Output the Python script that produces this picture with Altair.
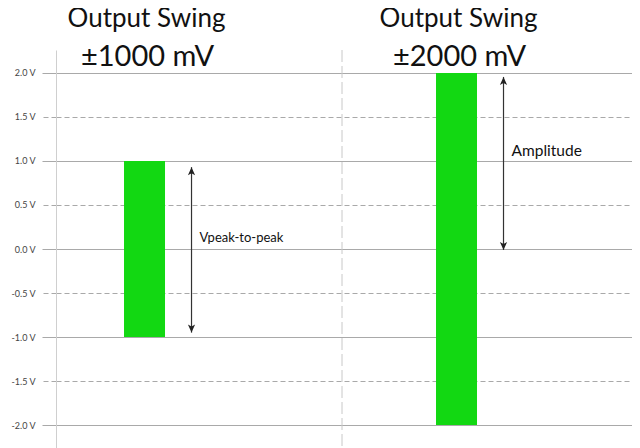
import altair as alt
import pandas as pd

# ---- data ----
categories = ["±1000 mV", "±2000 mV"]
title_top = ["Output Swing", "Output Swing"]
swing_low = [-1.0, -2.0]
swing_high = [1.0, 2.0]
arrow_from = [0.93, 1.955]
arrow_to = [-0.95, -0.01]
notes = ["Vpeak-to-peak", "Amplitude"]
note_y = [0.125, 1.11]
note_size = [13, 15.5]
tick_values = [-2.0, -1.5, -1.0, -0.5, 0.0, 0.5, 1.0, 1.5, 2.0]
y_domain = [-2.261, 2.261]

df = pd.DataFrame({
    "cat": categories,
    "top": title_top,
    "lo": swing_low,
    "hi": swing_high,
    "a_from": arrow_from,
    "a_to": arrow_to,
    "note": notes,
    "note_y": note_y,
    "note_size": note_size,
})

W, H = 576, 398
GRID = "#a9a9a9"

xscale = alt.Scale(domain=categories, paddingInner=0.8686, paddingOuter=0.3574, align=0.305)
x = alt.X("cat:N", scale=xscale, axis=None)
yscale = alt.Scale(domain=y_domain, nice=False, zero=False)

dash_cond = alt.condition("datum.value % 1 != 0", alt.value([5, 3]), alt.value([]))

yaxis = alt.Axis(
    values=tick_values,
    title=None,
    labelExpr="(datum.value < 0 ? '-' : '') + format(abs(datum.value), '.1f') + ' V'",
    labelFont="Lato",
    labelFontSize=9,
    labelColor="#444444",
    labelPadding=7,
    tickSize=14,
    tickColor=GRID,
    tickDash=dash_cond,
    grid=True,
    gridColor=GRID,
    gridDash=dash_cond,
    domainColor="#cfcfcf",
)

base = alt.Chart(df)

bars = base.mark_bar(color="#12d812").encode(
    x=x,
    y=alt.Y("lo:Q", scale=yscale, axis=yaxis),
    y2="hi:Q",
)

divider = alt.Chart(pd.DataFrame({"d": [0]})).mark_rule(
    color="#c8c8c8", strokeDash=[12, 4]
).encode(x=alt.value(286), y=alt.value(0), y2=alt.value(H))

arrow_line = base.mark_rule(color="#333333", strokeWidth=1.2, xOffset=47).encode(
    x=x, y=alt.Y("a_from:Q", scale=yscale), y2="a_to:Q"
)

up_head = "M0,0 L-0.45,1.0 L0,0.75 L0.45,1.0 Z"
down_head = "M0,0 L-0.45,-1.0 L0,-0.75 L0.45,-1.0 Z"

head_top = base.mark_point(shape=up_head, size=256, filled=True, color="#222222",
                           opacity=1, strokeWidth=0, xOffset=47).encode(
    x=x, y=alt.Y("a_from:Q", scale=yscale))
head_bot = base.mark_point(shape=down_head, size=256, filled=True, color="#222222",
                           opacity=1, strokeWidth=0, xOffset=47).encode(
    x=x, y=alt.Y("a_to:Q", scale=yscale))

note_text = base.mark_text(align="left", baseline="middle", font="Lato",
                           color="#111111", xOffset=55).encode(
    x=x, y=alt.Y("note_y:Q", scale=yscale), text="note:N",
    size=alt.Size("note_size:Q", scale=None, legend=None))

title1 = base.mark_text(align="center", baseline="alphabetic", font="Lato", fontSize=26,
                        color="#111111", xOffset=2).encode(
    x=x, y=alt.value(-23), text="top:N")
title2 = base.mark_text(align="center", baseline="alphabetic", font="Lato", fontSize=29,
                        color="#111111", xOffset=3).encode(
    x=x, y=alt.value(15.5), text="cat:N")

chart = alt.layer(divider, bars, arrow_line, head_top, head_bot, note_text, title1, title2).properties(
    width=W,
    height=H,
    autosize=alt.AutoSizeParams(type="none"),
    padding={"left": 48, "top": 42, "right": 0, "bottom": 0},
    background="white",
).configure_view(stroke=None)

chart.save("out.html", embed_options={"renderer": "svg", "actions": False})
